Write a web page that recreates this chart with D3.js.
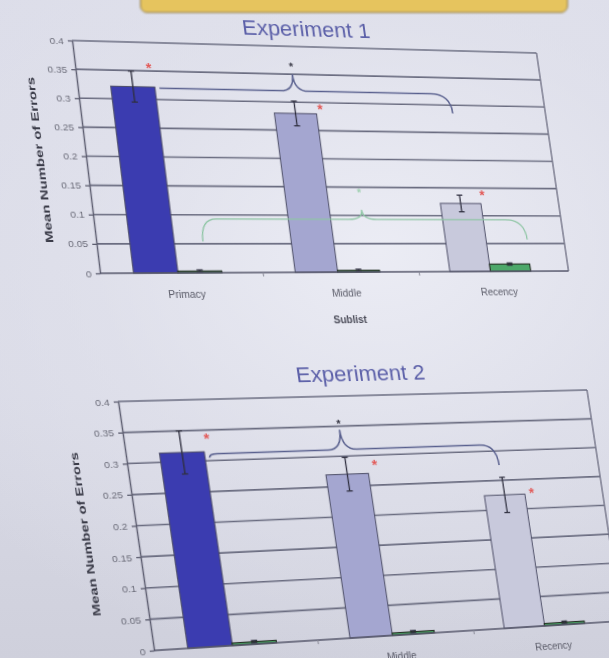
<!DOCTYPE html>
<html>
<head>
<meta charset="utf-8">
<script src="https://cdn.jsdelivr.net/npm/d3@7"></script>
<style>
  html, body { margin: 0; padding: 0; width: 609px; height: 658px; overflow: hidden; }
  body {
    position: relative;
    background:
      radial-gradient(ellipse 520px 420px at 62% 38%, rgba(236,237,245,0.95) 0%, rgba(226,227,237,0.6) 55%, rgba(200,201,214,0) 100%),
      linear-gradient(180deg, #dcdde9 0%, #d9dae6 60%, #cfd0dc 100%);
  }
  .header {
    position: absolute; left: 140px; top: -14px; width: 426px; height: 25px;
    background: #e6c45e; border: 1.5px solid #8a7748; border-radius: 7px;
    filter: blur(0.8px);
  }
  .sheet { position: absolute; left: 0; top: 0; transform-origin: 0 0; filter: blur(0.65px); }
  .sheet svg { display: block; overflow: visible; }
</style>
</head>
<body>
<div class="header"></div>
<script>
// ---- shared axes ----
const categories = ["Primacy", "Middle", "Recency"];
const tickValues = [0, 0.05, 0.1, 0.15, 0.2, 0.25, 0.3, 0.35, 0.4];
const tickLabels = ["0", "0.05", "0.1", "0.15", "0.2", "0.25", "0.3", "0.35", "0.4"];
const yTitle = "Mean Number of Errors";
const xTitle = "Sublist";

// ---- Experiment 1 ----
const exp1Mean = [0.322, 0.28, 0.122];
const exp1Err = [0.027, 0.022, 0.015];
const exp1Other = [0.003, 0.003, 0.013];
const exp1OtherErr = [0.002, 0.002, 0.002];
const exp1StarX = [0.45, 1.5, 2.49];
const exp1StarY = [0.358, 0.292, 0.14];
// braces: [left x, peak x, right x, left end, level, peak, right end, star]
const exp1BraceBlue = [0.5, 1.35, 2.37, 0.32, 0.32, 0.35, 0.285, 0.368];
const exp1BraceGreen = [0.65, 1.68, 2.75, 0.054, 0.093, 0.11, 0.057, 0.145];

// ---- Experiment 2 ----
const exp2Mean = [0.315, 0.27, 0.225];
const exp2Err = [0.035, 0.028, 0.03];
const exp2Other = [0.004, 0.004, 0.004];
const exp2OtherErr = [0.002, 0.002, 0.002];
const exp2StarX = [0.5, 1.52, 2.52];
const exp2StarY = [0.34, 0.287, 0.23];
const exp2BraceBlue = [0.5, 1.33, 2.33, 0.305, 0.311, 0.344, 0.276, 0.357];

const mainColors = ["#3b3cb0", "#a4a6d0", "#c8c9dc"];
const otherColor = "#4da86a";

// flat chart width; each plot area is then placed on its page quadrilateral
const W = 470;

function solve(A, b) {
  const n = b.length;
  const M = A.map((r, i) => [...r, b[i]]);
  for (let c = 0; c < n; c++) {
    let p = c;
    for (let r = c + 1; r < n; r++) if (Math.abs(M[r][c]) > Math.abs(M[p][c])) p = r;
    [M[c], M[p]] = [M[p], M[c]];
    for (let r = 0; r < n; r++) {
      if (r === c) continue;
      const f = M[r][c] / M[c][c];
      for (let k = c; k <= n; k++) M[r][k] -= f * M[c][k];
    }
  }
  return M.map((r, i) => r[n] / r[i]);
}

function projective(src, dst) {
  const A = [], b = [];
  for (let i = 0; i < 4; i++) {
    const [x, y] = src[i], [u, v] = dst[i];
    A.push([x, y, 1, 0, 0, 0, -x * u, -y * u]); b.push(u);
    A.push([0, 0, 0, x, y, 1, -x * v, -y * v]); b.push(v);
  }
  const h = solve(A, b);
  return `matrix3d(${h[0]},${h[3]},0,${h[6]},${h[1]},${h[4]},0,${h[7]},0,0,1,0,${h[2]},${h[5]},0,1)`;
}

function drawChart(cfg) {
  const m = { l: 95, t: 45, r: 30, b: 75 };
  const H = cfg.H;
  const div = d3.select("body").append("div").attr("class", "sheet");
  const svg = div.append("svg")
    .attr("width", m.l + W + m.r)
    .attr("height", m.t + H + m.b);
  const g = svg.append("g").attr("transform", `translate(${m.l},${m.t})`);

  const y = d3.scaleLinear().domain([0, 0.4]).range([H, 0]);
  const x0 = d3.scaleBand().domain(categories).range([0, W]);
  const x1 = d3.scaleBand().domain([0, 1]).range([0, x0.bandwidth()])
    .paddingInner(0).paddingOuter(0.85).align(0.44);
  const xc = d3.scaleLinear().domain([0, categories.length]).range([0, W]);

  // gridlines
  g.append("g").selectAll("line").data(tickValues.filter(d => d > 0)).join("line")
    .attr("x1", 0).attr("x2", W)
    .attr("y1", d => y(d)).attr("y2", d => y(d))
    .attr("stroke", "#6a6c80").attr("stroke-width", 1.7);

  // right border of plot area
  g.append("line").attr("x1", W).attr("x2", W).attr("y1", y(0.4)).attr("y2", y(0))
    .attr("stroke", "#6f7084").attr("stroke-width", 1.4);

  // main bars
  g.append("g").selectAll("rect").data(cfg.mean).join("rect")
    .attr("x", (d, i) => x0(categories[i]) + x1(0))
    .attr("width", x1.bandwidth())
    .attr("y", d => y(d))
    .attr("height", d => y(0) - y(d))
    .attr("fill", (d, i) => mainColors[i])
    .attr("stroke", "#4c4d66").attr("stroke-width", 1);

  // second series (near zero)
  g.append("g").selectAll("rect").data(cfg.other).join("rect")
    .attr("x", (d, i) => x0(categories[i]) + x1(1))
    .attr("width", x1.bandwidth())
    .attr("y", d => y(d))
    .attr("height", d => y(0) - y(d))
    .attr("fill", otherColor)
    .attr("stroke", "#263326").attr("stroke-width", 1.2);

  // error bars
  function errorBars(vals, errs, series, cap) {
    const eg = g.append("g").attr("stroke", "#303040").attr("stroke-width", 1.3);
    vals.forEach((v, i) => {
      const cx = x0(categories[i]) + x1(series) + x1.bandwidth() / 2;
      eg.append("line").attr("x1", cx).attr("x2", cx).attr("y1", y(v - errs[i])).attr("y2", y(v + errs[i]));
      [v - errs[i], v + errs[i]].forEach(e => {
        eg.append("line").attr("x1", cx - cap).attr("x2", cx + cap).attr("y1", y(e)).attr("y2", y(e));
      });
    });
  }
  errorBars(cfg.mean, cfg.err, 0, 3);
  errorBars(cfg.other, cfg.otherErr, 1, 3);

  // value axis
  const ya = g.append("g").call(
    d3.axisLeft(y).tickValues(tickValues).tickFormat((d, i) => tickLabels[i]).tickSize(4).tickSizeOuter(0).tickPadding(4)
  );
  ya.select(".domain").attr("stroke", "#5d5e70").attr("stroke-width", 1.4);
  ya.selectAll(".tick line").attr("stroke", "#5d5e70").attr("stroke-width", 1.3);
  ya.selectAll(".tick text").attr("fill", "#6a6b78")
    .style("font", "9.5px 'Liberation Sans', Arial, sans-serif");

  // category axis
  g.append("line").attr("x1", 0).attr("x2", W).attr("y1", y(0)).attr("y2", y(0))
    .attr("stroke", "#55566a").attr("stroke-width", 1.6);
  g.append("g").selectAll("line").data(categories.slice(1)).join("line")
    .attr("x1", d => x0(d)).attr("x2", d => x0(d))
    .attr("y1", y(0)).attr("y2", y(0) + 4)
    .attr("stroke", "#8a8b98").attr("stroke-width", 1);
  g.append("g").selectAll("text").data(categories).join("text")
    .attr("x", d => x0(d) + x0.bandwidth() / 2 + 2)
    .attr("y", y(0) + 25)
    .attr("text-anchor", "middle")
    .attr("fill", "#5a5b68")
    .style("font", "10px 'Liberation Sans', Arial, sans-serif")
    .text(d => d);

  // comparison braces
  function brace(b, color, width, starColor, dxL, dxR) {
    const [xa, xm, xb, ea, lv, pk, eb, st] = b;
    const X = xc, dm = 0.09;
    const p = d3.path();
    p.moveTo(X(xa), y(ea));
    p.quadraticCurveTo(X(xa), y(lv), X(xa + dxL), y(lv));
    p.lineTo(X(xm - dm), y(lv));
    p.quadraticCurveTo(X(xm), y(lv), X(xm), y(pk));
    p.quadraticCurveTo(X(xm), y(lv), X(xm + dm), y(lv));
    p.lineTo(X(xb - dxR), y(lv));
    p.quadraticCurveTo(X(xb), y(lv), X(xb), y(eb));
    g.append("path").attr("d", p.toString()).attr("fill", "none")
      .attr("stroke", color).attr("stroke-width", width);
    g.append("text").attr("x", X(xm)).attr("y", y(st) + 6)
      .attr("text-anchor", "middle").attr("fill", starColor)
      .style("font", "bold 11px 'Liberation Sans', Arial, sans-serif").text("*");
  }
  cfg.braces.forEach(b => brace(b.data, b.color, b.width, b.star, b.dxL, b.dxR));

  // significance markers
  g.append("g").selectAll("text").data(cfg.starX).join("text")
    .attr("x", d => xc(d)).attr("y", (d, i) => y(cfg.starY[i]) + 7)
    .attr("text-anchor", "middle").attr("fill", "#e25a58")
    .style("font", "bold 14px 'Liberation Sans', Arial, sans-serif").text("*");

  // titles
  g.append("text").attr("x", W / 2 + cfg.titleDx).attr("y", cfg.titleDy)
    .attr("text-anchor", "middle").attr("fill", "#5b5fa8")
    .style("font", "22px 'Liberation Sans', Arial, sans-serif").text(cfg.title);
  g.append("text")
    .attr("transform", `translate(${cfg.yTitleDx},${H / 2 + cfg.yTitleDy}) rotate(-90)`)
    .attr("text-anchor", "middle").attr("fill", "#3a3b48")
    .attr("textLength", cfg.yTitleLen).attr("lengthAdjust", "spacingAndGlyphs")
    .style("font", "bold 10px 'Liberation Sans', Arial, sans-serif").text(yTitle);
  g.append("text").attr("x", W / 2 + 2).attr("y", y(0) + 52)
    .attr("text-anchor", "middle").attr("fill", "#4a4b58")
    .style("font", "bold 10px 'Liberation Sans', Arial, sans-serif").text(xTitle);

  // place the flat chart onto the page plane
  const src = [[m.l, m.t], [m.l + W, m.t], [m.l, m.t + H], [m.l + W, m.t + H]];
  div.style("transform", projective(src, cfg.quad));
}

drawChart({
  title: "Experiment 1", H: 233,
  mean: exp1Mean, err: exp1Err, other: exp1Other, otherErr: exp1OtherErr,
  starX: exp1StarX, starY: exp1StarY,
  braces: [
    { data: exp1BraceBlue, color: "#59608e", width: 1.5, star: "#333340", dxL: 0.05, dxR: 0.13 },
    { data: exp1BraceGreen, color: "#8ec5a4", width: 1.3, star: "#9fd0b0", dxL: 0.1, dxR: 0.13 }
  ],
  titleDx: -3, titleDy: -11, yTitleDx: -40, yTitleDy: 4, yTitleLen: 165,
  quad: [[72, 40.5], [536.5, 53], [100, 273.3], [568.5, 271]]
});

drawChart({
  title: "Experiment 2", H: 245,
  mean: exp2Mean, err: exp2Err, other: exp2Other, otherErr: exp2OtherErr,
  starX: exp2StarX, starY: exp2StarY,
  braces: [
    { data: exp2BraceBlue, color: "#59608e", width: 1.5, star: "#333340", dxL: 0.05, dxR: 0.11 }
  ],
  titleDx: 3, titleDy: -15, yTitleDx: -44, yTitleDy: 6, yTitleLen: 160,
  quad: [[118, 401.5], [587, 390], [154, 650.5], [622, 621]]
});
</script>
</body>
</html>
